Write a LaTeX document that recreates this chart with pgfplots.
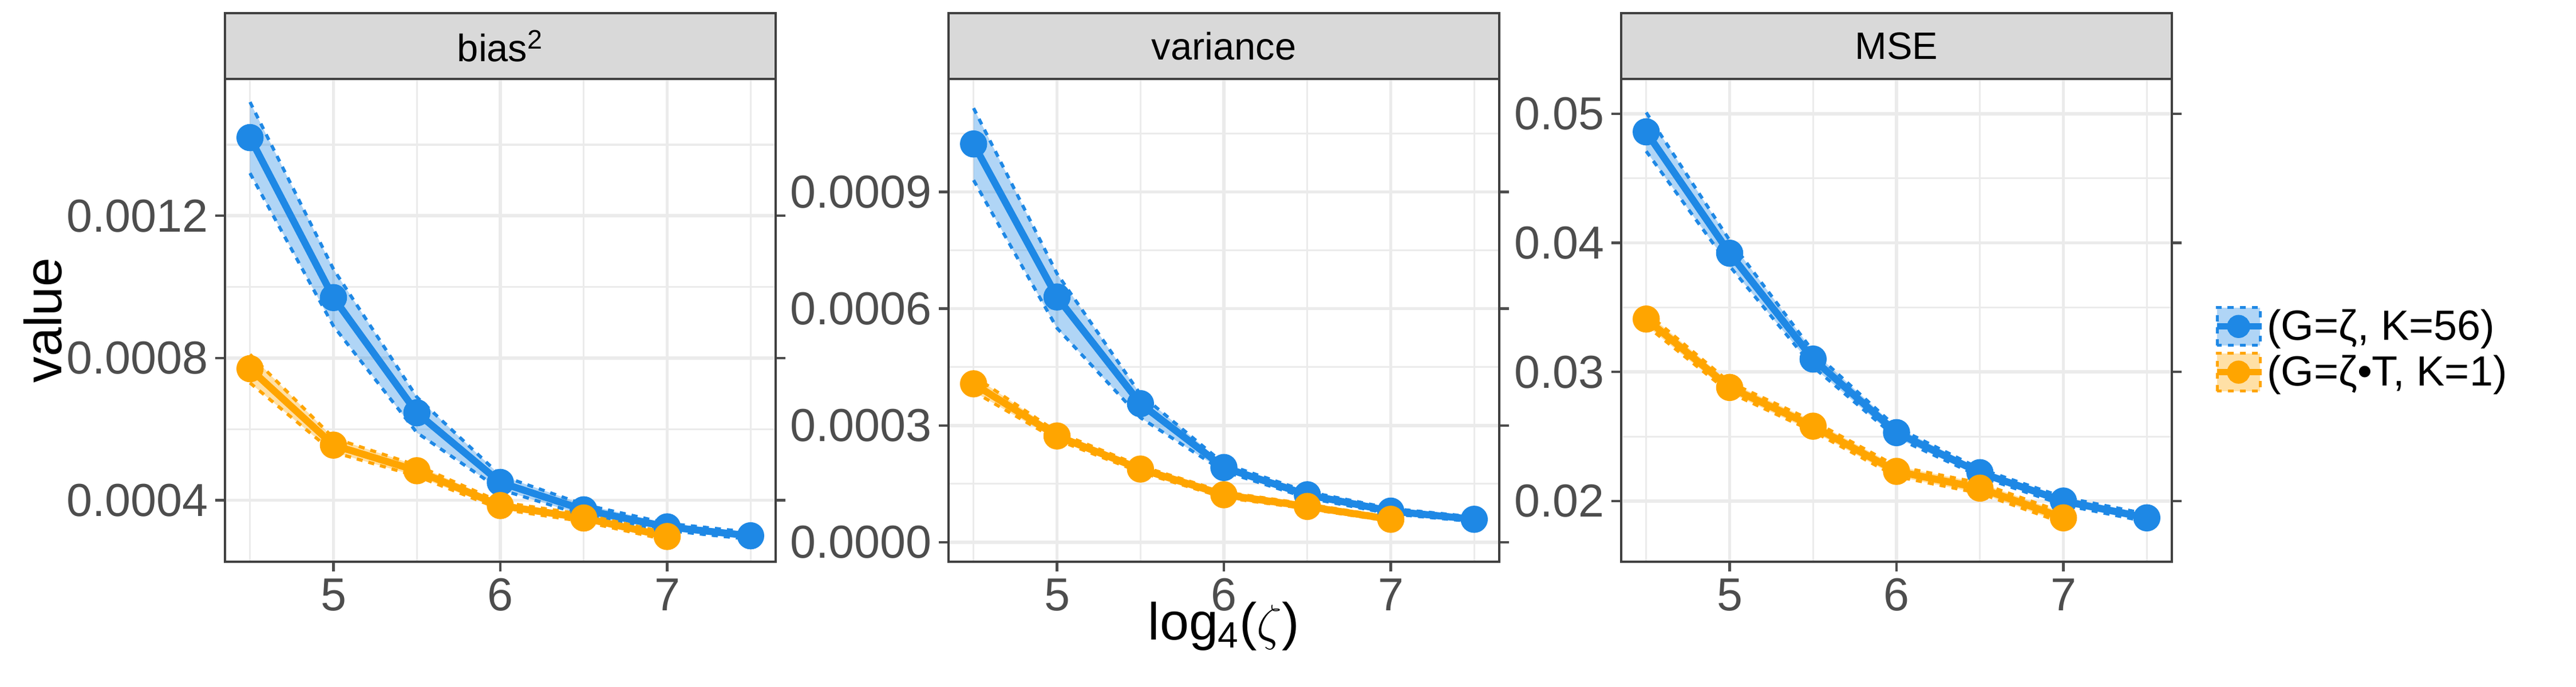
\documentclass[border=0pt]{standalone}
\usepackage{pgfplots}
\pgfplotsset{compat=1.18}
\usepackage{pgfplotstable}
\usepackage{fontspec}
\setmainfont{Liberation Sans}
\definecolor{cb}{HTML}{1E88E5}
\definecolor{co}{HTML}{FFA500}
\definecolor{gl}{HTML}{EBEBEB}
\definecolor{tk}{HTML}{4D4D4D}
\definecolor{strip}{HTML}{D9D9D9}

\pgfplotstableread{
x m lo hi
4.5 0.00142 0.00132 0.00152
5.0 0.00097 0.00089 0.00105
5.5 0.000646 0.00059 0.00069
6.0 0.00045 0.00043 0.00047
6.5 0.000373 0.000358 0.000388
7.0 0.000325 0.000315 0.000335
7.5 0.000300 0.000290 0.000310
}\biasB
\pgfplotstableread{
x m lo hi
4.5 0.00077 0.00073 0.00081
5.0 0.000555 0.000535 0.000575
5.5 0.000483 0.000468 0.000498
6.0 0.000385 0.000375 0.000395
6.5 0.00035 0.00034 0.00036
7.0 0.000298 0.000288 0.000308
}\biasO
\pgfplotstableread{
x m lo hi
4.5 0.001023 0.00093 0.001115
5.0 0.00063 0.00055 0.00069
5.5 0.000356 0.00032 0.00038
6.0 0.000192 0.000182 0.000202
6.5 0.000122 0.000114 0.00013
7.0 0.00008 0.000073 0.000087
7.5 0.000059 0.000053 0.000065
}\varB
\pgfplotstableread{
x m lo hi
4.5 0.000407 0.000387 0.000427
5.0 0.000273 0.000263 0.000283
5.5 0.000188 0.00018 0.000196
6.0 0.000122 0.000115 0.000129
6.5 0.000092 0.000086 0.000098
7.0 0.000059 0.000054 0.000064
}\varO
\pgfplotstableread{
x m lo hi
4.5 0.0486 0.0471 0.0501
5.0 0.0392 0.0382 0.0402
5.5 0.0310 0.0304 0.0316
6.0 0.0253 0.0249 0.0257
6.5 0.0222 0.0219 0.0225
7.0 0.0200 0.0197 0.0203
7.5 0.0187 0.0184 0.0190
}\mseB
\pgfplotstableread{
x m lo hi
4.5 0.0341 0.0336 0.0346
5.0 0.0288 0.0284 0.0292
5.5 0.0258 0.0254 0.0262
6.0 0.0223 0.0219 0.0227
6.5 0.0210 0.0206 0.0214
7.0 0.0187 0.0183 0.0191
}\mseO

% #1 table, #2 colour, #3 band polygon (upper edge then lower edge reversed)
\newcommand\series[3]{%
  \addplot[#2, fill, fill opacity=0.35, draw=none, forget plot] coordinates {#3} --cycle;
  \addplot[#2, dashed, line width=1.6pt, forget plot] table[x=x,y=hi] {#1};
  \addplot[#2, dashed, line width=1.6pt, forget plot] table[x=x,y=lo] {#1};
  \addplot[#2, line width=3.5pt, mark=*, mark size=5pt] table[x=x,y=m] {#1};
}

\pgfplotsset{panel/.style={
  width=9.62cm, height=8.44cm, scale only axis, clip=false,
  xmin=4.35, xmax=7.65, xtick={5,6,7}, minor xtick={4.5,5.5,6.5,7.5},
  grid=both, major grid style={gl, line width=1.6pt}, minor grid style={gl, line width=0.9pt},
  axis line style={draw=black!75, line width=1pt},
  tick align=outside, major tick length=0.17cm, minor tick length=0pt,
  tick style={tk, line width=1.2pt},
  ticklabel style={font=\fontsize{23}{27}\selectfont, text=tk},
  /pgf/number format/assume math mode=true,
}}
\newcommand\strip[1]{%
  \draw[fill=strip, draw=black!75, line width=1pt] (rel axis cs:0,1) rectangle (rel axis cs:1,1.136);
  \node[font=\fontsize{19}{23}\selectfont] at (rel axis cs:0.5,1.068) {#1};
}

\begin{document}
\begin{tikzpicture}
\useasboundingbox (0,0) rectangle (45cm,12cm);
\begin{axis}[panel, at={(3.93cm,2.18cm)}, anchor=south west,
  ymin=0.000227, ymax=0.001585, ytick={0.0004,0.0008,0.0012},
  yticklabels={0.0004,0.0008,0.0012}, minor ytick={0.0006,0.001,0.0014}]
\series{\biasB}{cb}{(4.5,0.00152)(5,0.00105)(5.5,0.00069)(6,0.00047)(6.5,0.000388)(7,0.000335)(7.5,0.00031)(7.5,0.00029)(7,0.000315)(6.5,0.000358)(6,0.00043)(5.5,0.00059)(5,0.00089)(4.5,0.00132)}
\series{\biasO}{co}{(4.5,0.00081)(5,0.000575)(5.5,0.000498)(6,0.000395)(6.5,0.00036)(7,0.000308)(7,0.000288)(6.5,0.00034)(6,0.000375)(5.5,0.000468)(5,0.000535)(4.5,0.00073)}
\strip{bias$^{\mathrm{2}}$}
\end{axis}
\node[rotate=90, font=\fontsize{26}{30}\selectfont] at (0.75cm,6.4cm) {value};
\begin{axis}[panel, at={(16.57cm,2.18cm)}, anchor=south west,
  ymin=-0.00005, ymax=0.00119, ytick={0,0.0003,0.0006,0.0009},
  yticklabels={0.0000,0.0003,0.0006,0.0009}, minor ytick={0.00015,0.00045,0.00075,0.00105}]
\series{\varB}{cb}{(4.5,0.001115)(5,0.00069)(5.5,0.00038)(6,0.000202)(6.5,0.00013)(7,0.000087)(7.5,0.000065)(7.5,0.000053)(7,0.000073)(6.5,0.000114)(6,0.000182)(5.5,0.00032)(5,0.00055)(4.5,0.00093)}
\series{\varO}{co}{(4.5,0.000427)(5,0.000283)(5.5,0.000196)(6,0.000129)(6.5,0.000098)(7,0.000064)(7,0.000054)(6.5,0.000086)(6,0.000115)(5.5,0.00018)(5,0.000263)(4.5,0.000387)}
\strip{variance}
\end{axis}
\node[font=\fontsize{26}{30}\selectfont] at (21.38cm,1.05cm) {log\textsubscript{4}($\zeta$)};
\begin{axis}[panel, at={(28.32cm,2.18cm)}, anchor=south west,
  ymin=0.0153, ymax=0.0527, ytick={0.02,0.03,0.04,0.05},
  yticklabels={0.02,0.03,0.04,0.05}, minor ytick={0.015,0.025,0.035,0.045},
  legend style={at={(rel axis cs:1.065,0.44)}, anchor=west, draw=none, fill=none,
    font=\fontsize{21}{25}\selectfont, row sep=2pt},
  legend cell align=left,
  legend image code/.code={
    \draw[dashed, line width=1.4pt, fill opacity=0.35, fill] (0cm,-0.33cm) rectangle (0.75cm,0.33cm);
    \draw[line width=3pt] (0cm,0cm) -- (0.75cm,0cm);
    \fill (0.375cm,0cm) circle (4pt);
  }]
\series{\mseB}{cb}{(4.5,0.0501)(5,0.0402)(5.5,0.0316)(6,0.0257)(6.5,0.0225)(7,0.0203)(7.5,0.019)(7.5,0.0184)(7,0.0197)(6.5,0.0219)(6,0.0249)(5.5,0.0304)(5,0.0382)(4.5,0.0471)}
\series{\mseO}{co}{(4.5,0.0346)(5,0.0292)(5.5,0.0262)(6,0.0227)(6.5,0.0214)(7,0.0191)(7,0.0183)(6.5,0.0206)(6,0.0219)(5.5,0.0254)(5,0.0284)(4.5,0.0336)}
\strip{MSE}
\legend{(G=ζ, K=56),(G=ζ•T, K=1)}
\end{axis}
\end{tikzpicture}
\end{document}
